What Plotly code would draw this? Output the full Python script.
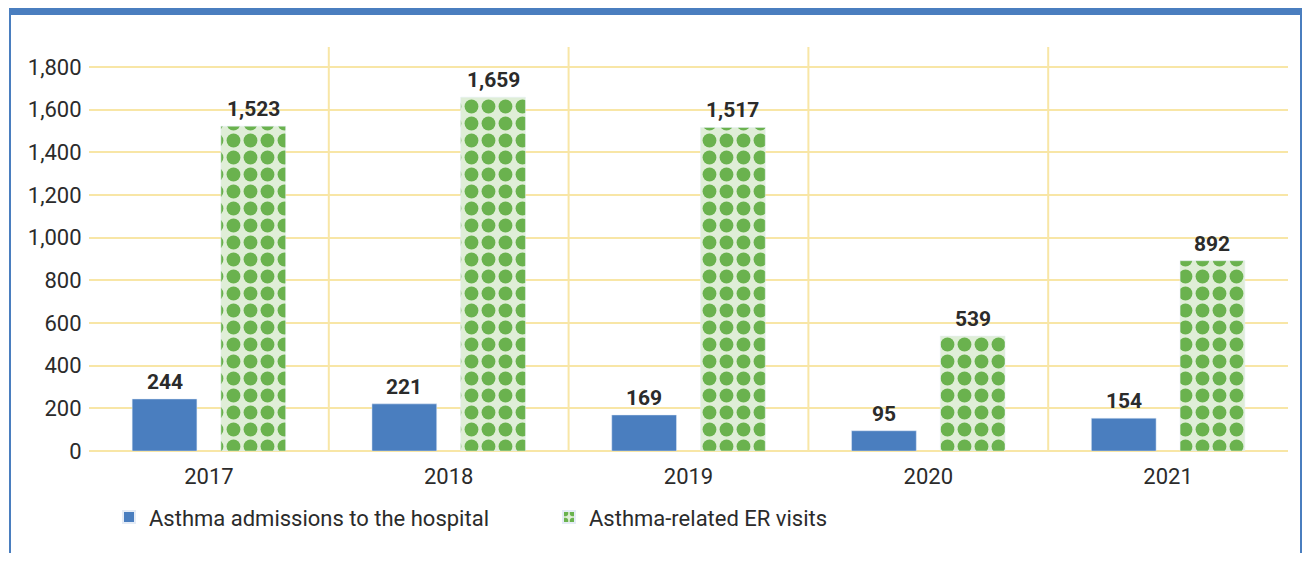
import plotly.graph_objects as go

years = ["2017", "2018", "2019", "2020", "2021"]
admissions = [244, 221, 169, 95, 154]
er_visits = [1523, 1659, 1517, 539, 892]
y_ticks = [0, 200, 400, 600, 800, 1000, 1200, 1400, 1600, 1800]

_BLUE = "#4a7ebf"
_GREEN = "#6ab24e"
_GREEN_BG = "#dfeed7"
_GRID = "#f8e6a6"
_TEXT = "#2b2b2b"
_FONT = "Roboto"

# page body adds an 8px margin, so the figure is sized to fit the window
W, H = 1302, 545
M_L, M_R, M_T, M_B = 81, 22, 39, 102
BARGAP = 0.26
plot_w = W - M_L - M_R
plot_h = H - M_T - M_B
cat_px = plot_w / len(years)
bar_shift = cat_px * (1 - BARGAP) / 4

fig = go.Figure()
fig.add_trace(
    go.Bar(
        x=years,
        y=admissions,
        name="Asthma admissions to the hospital",
        marker_color=_BLUE,
    )
)
fig.add_trace(
    go.Bar(
        x=years,
        y=er_visits,
        name="Asthma-related ER visits",
        marker=dict(
            color=_GREEN_BG,
            pattern=dict(shape=".", fgcolor=_GREEN, bgcolor=_GREEN_BG,
                         size=17, solidity=0.52, fillmode="replace"),
        ),
    )
)

# value labels above the bars (x is the category index)
for i, (a, e) in enumerate(zip(admissions, er_visits)):
    for val, shift in ((a, -bar_shift), (e, bar_shift)):
        fig.add_annotation(
            x=i, y=val, text=f"<b>{val:,}</b>", showarrow=False,
            xshift=shift, yshift=3, yanchor="bottom",
            font=dict(size=21, color=_TEXT, family=_FONT),
        )

# vertical separators between year groups
for i in range(len(years) - 1):
    fig.add_shape(
        type="line", xref="x", yref="paper",
        x0=i + 0.5, x1=i + 0.5, y0=0, y1=1,
        line=dict(color=_GRID, width=2), layer="below",
    )


def px_x(p):
    return (p - M_L) / plot_w


def px_y(p):
    return (H - M_B - p) / plot_h


# frame: blue header band and side borders
fig.add_shape(type="rect", xref="paper", yref="paper", x0=px_x(1), x1=px_x(1299),
              y0=px_y(7), y1=px_y(-10), fillcolor=_BLUE, line_width=0)
fig.add_shape(type="rect", xref="paper", yref="paper", x0=px_x(1), x1=px_x(3),
              y0=px_y(H + 10), y1=px_y(-10), fillcolor=_BLUE, line_width=0)
fig.add_shape(type="rect", xref="paper", yref="paper", x0=px_x(1292), x1=px_x(1294.5),
              y0=px_y(H + 10), y1=px_y(-10), fillcolor=_BLUE, line_width=0)

fig.update_layout(
    width=W,
    height=H,
    paper_bgcolor="white",
    plot_bgcolor="white",
    barmode="group",
    bargap=BARGAP,
    bargroupgap=0.27,
    font=dict(family=_FONT, color=_TEXT, size=22),
    margin=dict(l=M_L, r=M_R, t=M_T, b=M_B, autoexpand=False),
    xaxis=dict(
        type="category",
        range=[-0.5, len(years) - 0.5],
        showgrid=False,
        showline=False,
        ticks="outside",
        ticklen=6,
        tickcolor="rgba(0,0,0,0)",
        tickfont=dict(size=22, color=_TEXT),
        fixedrange=True,
    ),
    yaxis=dict(
        range=[0, 1894],
        tickvals=y_ticks,
        tickformat=",",
        showgrid=True,
        gridcolor=_GRID,
        gridwidth=1.5,
        zeroline=True,
        zerolinecolor=_GRID,
        zerolinewidth=1.5,
        tickfont=dict(size=22, color=_TEXT),
        ticks="outside",
        ticklen=2,
        tickcolor="rgba(0,0,0,0)",
    ),
    legend=dict(
        orientation="h",
        x=px_x(101),
        xanchor="left",
        y=-0.112,
        yanchor="top",
        font=dict(size=22, color=_TEXT),
        entrywidth=395,
        itemsizing="constant",
    ),
)

fig.write_html("out.html")
